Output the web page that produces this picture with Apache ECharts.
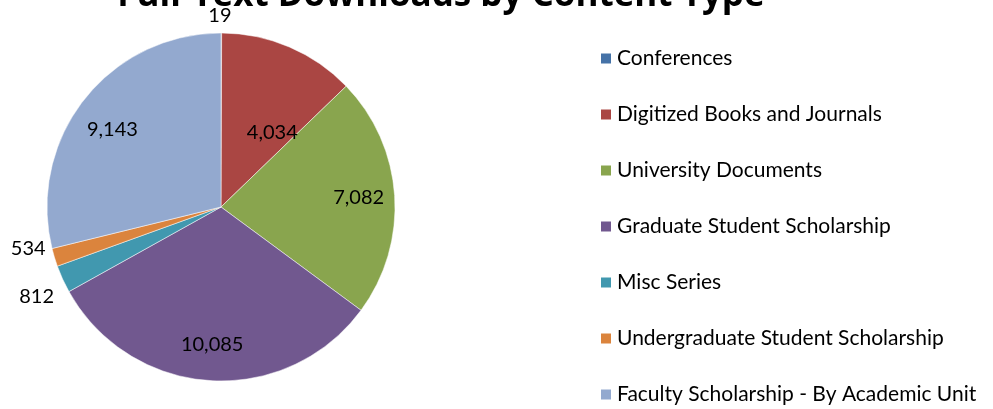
<!DOCTYPE html>
<html>
<head>
<meta charset="utf-8">
<script src="https://cdn.jsdelivr.net/npm/echarts@6/dist/echarts.min.js"></script>
<style>
  html, body { margin: 0; padding: 0; background: #fff; }
  #chart { width: 993px; height: 409px; }
</style>
</head>
<body>
<div id="chart"></div>
<script>
const categories = [
  'Conferences',
  'Digitized Books and Journals',
  'University Documents',
  'Graduate Student Scholarship',
  'Misc Series',
  'Undergraduate Student Scholarship',
  'Faculty Scholarship - By Academic Unit'
]
const downloads = [19, 4034, 7082, 10085, 812, 534, 9143]
const colors = ['#4572A7', '#AA4643', '#89A54E', '#71588F', '#4198AF', '#DB843D', '#93A9CF']
// where each value label sits: outside the pie, mid radius, or near the rim
const labelPlace = ['outside', 'mid', 'rim', 'rim', 'outside', 'outside', 'rim']

const chart = echarts.init(document.getElementById('chart'))

const fmt = p => p.value.toLocaleString('en-US')

const labelText = {
  fontFamily: 'Lato',
  fontSize: 20,
  color: '#000'
}

// small nudges so labels land where the original put them
const nudge = {
  0: { dx: -18, dy: -13 },
  1: { dx: 16, dy: 8 },
  4: { dy: 16 },
  5: { dy: -10 },
  6: { dy: 8 }
}
const nudgeLabel = p => nudge[p.dataIndex] || {}

// visible pie, carries the outside labels and the mid-radius one
const pieData = categories.map((name, i) => {
  const place = labelPlace[i]
  return {
    name: name,
    value: downloads[i],
    itemStyle: { color: colors[i] },
    label: {
      show: place !== 'rim',
      position: place === 'outside' ? 'outside' : 'inside'
    }
  }
})

// transparent ring on top, only used to put the rim labels further out
const rimData = categories.map((name, i) => {
  return {
    name: name,
    value: downloads[i],
    label: { show: labelPlace[i] === 'rim' }
  }
})

const option = {
  animation: false,
  title: {
    text: 'Full-Text Downloads by Content Type',
    left: 436,
    textAlign: 'center',
    top: -26,
    textStyle: {
      fontFamily: 'Open Sans',
      fontWeight: 'bold',
      fontSize: 35,
      color: '#000'
    }
  },
  legend: {
    orient: 'vertical',
    left: 599,
    top: 48,
    height: 380,
    padding: 0,
    itemWidth: 12,
    itemHeight: 12,
    itemGap: 35,
    icon: 'rect',
    textStyle: {
      fontFamily: 'Lato',
      fontSize: 21,
      lineHeight: 21,
      color: '#000'
    },
    data: categories
  },
  series: [{
    type: 'pie',
    center: [221, 207],
    radius: 174,
    startAngle: 90,
    clockwise: true,
    avoidLabelOverlap: false,
    itemStyle: {
      borderColor: '#fff',
      borderWidth: 0.5
    },
    label: Object.assign({ formatter: fmt, distance: 4 }, labelText),
    labelLine: { show: false, length: 4, length2: 0 },
    labelLayout: nudgeLabel,
    emphasis: { disabled: true },
    data: pieData
  }, {
    type: 'pie',
    center: [221, 207],
    radius: [96, 174],
    startAngle: 90,
    clockwise: true,
    silent: true,
    avoidLabelOverlap: false,
    itemStyle: { color: 'rgba(0,0,0,0)' },
    label: Object.assign({ position: 'inside', formatter: fmt }, labelText),
    labelLine: { show: false },
    labelLayout: nudgeLabel,
    emphasis: { disabled: true },
    data: rimData
  }]
}

chart.setOption(option)
</script>
</body>
</html>
